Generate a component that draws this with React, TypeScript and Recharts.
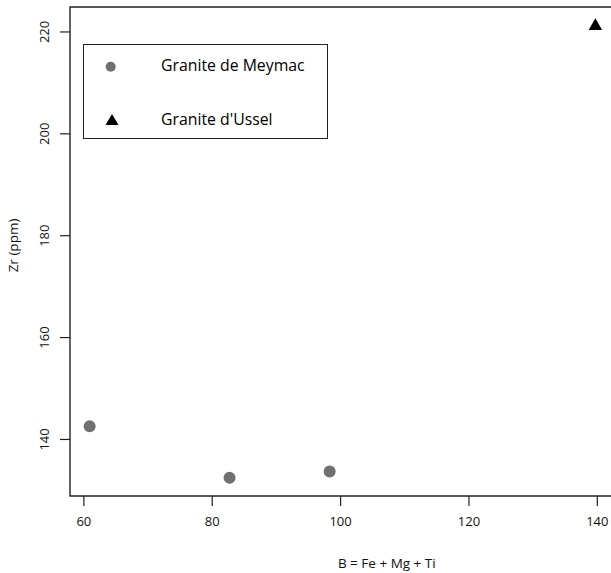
import {
    ScatterChart,
    Scatter,
    XAxis,
    YAxis,
    ReferenceArea
} from "recharts";

// values
const meymacB = [60.9, 82.7, 98.3];
const meymacZr = [142.6, 132.5, 133.7];
const usselB = [139.7];
const usselZr = [221.3];

const xTicks = [60, 80, 100, 120, 140];
const yTicks = [140, 160, 180, 200, 220];
const xDomain: [number, number] = [57.84, 143.16];
const yDomain: [number, number] = [128.9, 224.9];

const seriesNames = ["Granite de Meymac", "Granite d'Ussel"];

const meymac = meymacB.map((b, i) => ({ b, zr: meymacZr[i] }));
const ussel = usselB.map((b, i) => ({ b, zr: usselZr[i] }));

const FONT = "'Open Sans', sans-serif";
const GREY = "#707070";

const Dot = (props: any) => (
    <circle cx={props.cx} cy={props.cy} r={6} fill={GREY} />
);

const Tri = (props: any) => {
    const { cx, cy } = props;
    const s = 13.5;
    const h = s * 0.87;
    return (
        <polygon
            points={`${cx},${cy - h * 0.6} ${cx - s / 2},${cy + h * 0.4} ${cx + s / 2},${cy + h * 0.4}`}
            fill="#000"
        />
    );
};

const XTick = (props: any) => (
    <text x={props.x} y={props.y} dy={18} textAnchor="middle" fontSize={13} fontFamily={FONT} fill="#111">
        {props.payload.value}
    </text>
);

const YTick = (props: any) => (
    <text
        x={44}
        y={props.y}
        dy="0.35em"
        textAnchor="middle"
        fontSize={13}
        fontFamily={FONT}
        fill="#111"
        transform={`rotate(-90, 44, ${props.y})`}
    >
        {props.payload.value}
    </text>
);

// legend box drawn over the plot, top-left corner
const LegendBox = () => (
    <div
        style={{
            position: "absolute",
            left: 83,
            top: 44,
            width: 245,
            height: 95,
            boxSizing: "border-box",
            border: "1.5px solid #222",
            fontFamily: FONT,
            fontSize: 15.8,
            color: "#000"
        }}
    >
        <svg width={245} height={95} style={{ position: "absolute", left: -1.5, top: -1.5 }}>
            <circle cx={27.7} cy={22.7} r={5} fill={GREY} />
            <polygon points="29,70 22.5,81 35.5,81" fill="#000" />
        </svg>
        <div style={{ position: "absolute", left: 77, top: 9 }}>{seriesNames[0]}</div>
        <div style={{ position: "absolute", left: 77, top: 63 }}>{seriesNames[1]}</div>
    </div>
);

export default function App() {
    return (
        <div style={{ position: "absolute", left: 0, top: 0, width: 611, height: 573, overflow: "hidden", background: "#fff" }}>
            <ScatterChart width={640} height={573} margin={{ top: 7, right: 22.4, bottom: 0, left: 0 }}>
                <XAxis
                    type="number"
                    dataKey="b"
                    domain={xDomain}
                    ticks={xTicks}
                    allowDataOverflow
                    axisLine={false}
                    tickSize={10}
                    tickLine={{ stroke: "#222", strokeWidth: 1.2 }}
                    tick={<XTick />}
                    height={77}
                    label={{
                        value: "B = Fe + Mg + Ti",
                        position: "insideBottom",
                        offset: 5,
                        dx: 43,
                        fontSize: 13.5,
                        fontFamily: FONT,
                        fill: "#111"
                    }}
                />
                <YAxis
                    type="number"
                    dataKey="zr"
                    domain={yDomain}
                    ticks={yTicks}
                    allowDataOverflow
                    axisLine={false}
                    tickSize={10}
                    tickLine={{ stroke: "#222", strokeWidth: 1.2 }}
                    tick={<YTick />}
                    width={70}
                    label={{
                        value: "Zr (ppm)",
                        angle: -90,
                        position: "center",
                        dx: -22,
                        dy: -6,
                        fontSize: 13.5,
                        fontFamily: FONT,
                        fill: "#111"
                    }}
                />
                <ReferenceArea
                    x1={xDomain[0]}
                    x2={xDomain[1]}
                    y1={yDomain[0]}
                    y2={yDomain[1]}
                    fill="none"
                    stroke="#222"
                    strokeWidth={1.4}
                    ifOverflow="visible"
                />
                <Scatter name={seriesNames[0]} data={meymac} shape={<Dot />} isAnimationActive={false} />
                <Scatter name={seriesNames[1]} data={ussel} shape={<Tri />} isAnimationActive={false} />
            </ScatterChart>
            <LegendBox />
        </div>
    );
}
